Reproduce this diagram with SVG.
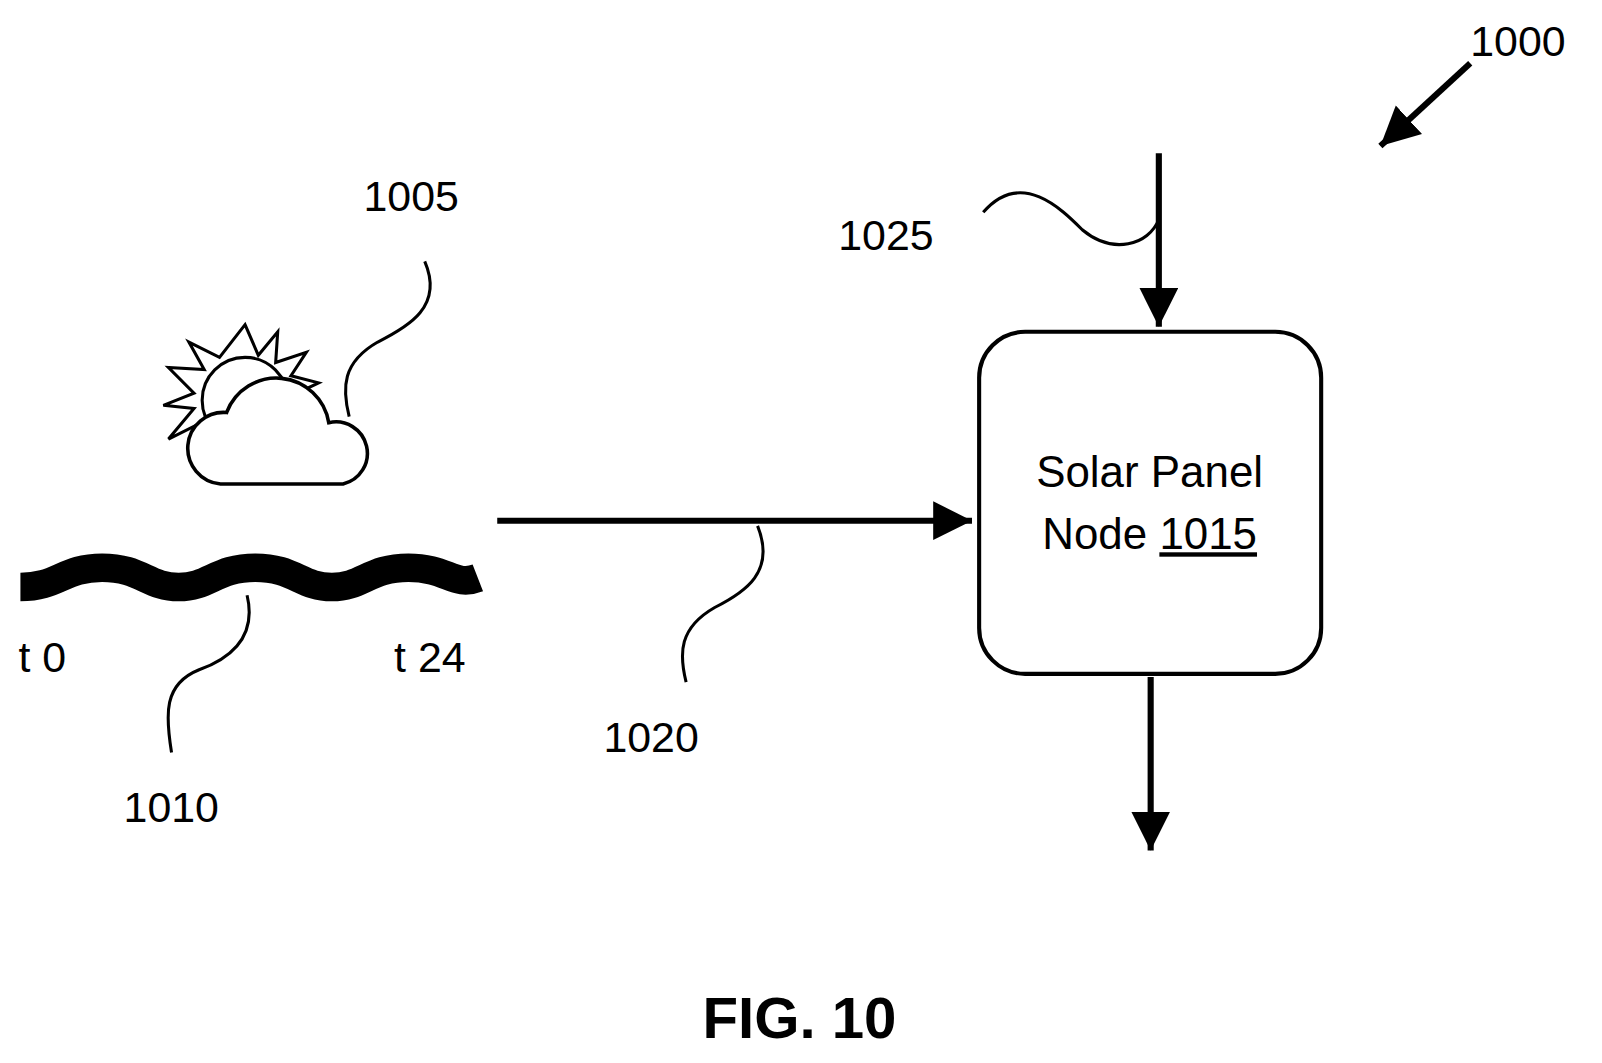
<svg xmlns="http://www.w3.org/2000/svg" width="1602" height="1063" viewBox="0 0 1602 1063">
<style>
text{font-family:"Liberation Sans",Arial,sans-serif;fill:#000}
.lbl{font-size:42px}
.ln{fill:none;stroke:#000;stroke-width:3}
.ar{fill:none;stroke:#000;stroke-width:6}
</style>
<defs>
<marker id="ah" markerUnits="userSpaceOnUse" markerWidth="44" markerHeight="44" refX="38" refY="19" orient="auto"><path d="M0,0 L38,19 L0,38 Z" fill="#000"/></marker>
</defs>
<rect width="1602" height="1063" fill="#fff"/>
<g transform="scale(1.021)">
<g id="weather-1005">
<polygon fill="#fff" stroke="#000" stroke-width="3" points="240,318 253,348 272,325 270,355 300,345 285,368 312,375 285,388 300,410 275,410 280,440 255,425 240,455 225,425 200,440 205,410 165,430 190,400 160,397 190,385 165,360 200,362 185,335 215,350"/>
<circle cx="240" cy="392" r="42" fill="#fff" stroke="#000" stroke-width="3"/>
<path d="M216,474 A35,35 0 0 1 222,404 A52,52 0 0 1 322,414 A30,30 0 0 1 336,474 Z" fill="#fff" stroke="#000" stroke-width="3.5"/>
</g>
<g id="wave-1010">
<path d="M20,575 C57,575 62,556 100,556 S145,575 175,575 S212,556 250,556 S295,575 325,575 S362,556 400,556 S445,575 468,566" fill="none" stroke="#000" stroke-width="28"/>
<text class="lbl" x="18" y="658">t 0</text>
<text class="lbl" x="386" y="658">t 24</text>
</g>
<g id="node-1015">
<rect x="959" y="325" width="335" height="335" rx="45" fill="#fff" stroke="#000" stroke-width="4"/>
<text x="1126" y="477" font-size="43" text-anchor="middle">Solar Panel</text>
<text x="1126" y="538" font-size="43" text-anchor="middle">Node <tspan text-decoration="underline">1015</tspan></text>
</g>
<g id="connectors">
<line class="ar" x1="487" y1="510" x2="952" y2="510" marker-end="url(#ah)"/>
<line class="ar" x1="1135" y1="150" x2="1135" y2="320" marker-end="url(#ah)"/>
<line class="ar" x1="1127" y1="663" x2="1127" y2="833" marker-end="url(#ah)"/>
<line class="ar" x1="1440" y1="62" x2="1352" y2="143" marker-end="url(#ah)"/>
<path class="ln" d="M416,256 C435,300 400,320 370,335 C335,355 335,380 342,408"/>
<path class="ln" d="M963,208 C1000,165 1040,205 1060,225 C1090,250 1125,240 1135,215"/>
<path class="ln" d="M742,515 C760,560 730,580 700,595 C665,615 665,640 672,668"/>
<path class="ln" d="M242,583 C252,625 225,645 195,656 C160,670 162,700 168,737"/>
</g>
<g id="labels">
<text class="lbl" x="356" y="207">1005</text>
<text class="lbl" x="821" y="245">1025</text>
<text class="lbl" x="591" y="737">1020</text>
<text class="lbl" x="121" y="805">1010</text>
<text class="lbl" x="1440" y="55">1000</text>
<text x="783" y="1017" font-size="57" font-weight="bold" text-anchor="middle">FIG. 10</text>
</g>
</g>
</svg>
